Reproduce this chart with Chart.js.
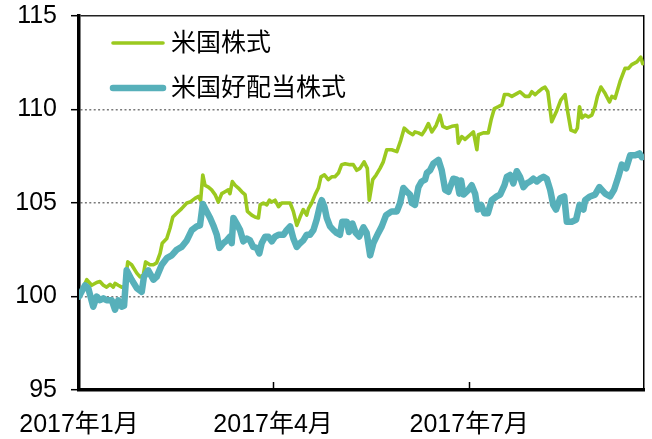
<!DOCTYPE html>
<html>
<head>
<meta charset="utf-8">
<script src="https://cdn.jsdelivr.net/npm/chart.js@4/dist/chart.umd.min.js"></script>
<style>
  html, body { margin: 0; padding: 0; background: #fff; }
  #wrap { width: 652px; height: 439px; }
</style>
</head>
<body>
<div id="wrap"><canvas id="stockChart" width="652" height="439"></canvas></div>
<script>
// days counted from 2017-01-01
const seriesNames = ['米国株式', '米国好配当株式'];
const tickDays = [0, 90, 181];
const tickLabels = ['2017年1月', '2017年4月', '2017年7月'];
const yTicks = [95, 100, 105, 110, 115];

const usDays = [0, 3.6, 5.9, 8.2, 9.7, 11.3, 12.8, 14.4, 15.9, 16.7, 18.2, 19.8, 21.3, 22.6, 24.4, 26.8, 28.3, 29.8, 30.9, 32.9,
  34.5, 36.0, 37.6, 38.6, 40.7, 42.2, 43.5, 45.3, 47.6, 50.0, 51.5, 53.8, 55.3, 56.4, 57.4, 58.4, 60.0, 61.5, 63.1, 64.6,
  66.2, 67.7, 69.2, 70.0, 71.1, 72.4, 73.9, 75.5, 77.0, 78.1, 80.1, 81.6, 83.2, 84.0, 85.5, 87.1, 88.3, 89.4, 90.9, 92.5,
  94.0, 95.6, 97.9, 99.4, 101.0, 102.5, 104.0, 105.6, 106.4, 107.9, 109.5, 111.0, 112.2, 113.8, 115.6, 117.2, 118.7, 120.3, 121.8, 123.4,
  125.7, 127.2, 128.8, 130.3, 132.2, 133.7, 134.6, 136.2, 137.8, 139.6, 141.1, 142.7, 145.0, 147.4, 149.2, 150.8, 152.7, 154.8, 155.8, 157.4,
  159.0, 160.5, 162.0, 163.6, 165.6, 167.4, 168.7, 170.5, 172.9, 175.2, 175.9, 177.5, 179.0, 181.4, 182.9, 184.5, 185.2, 187.5, 189.8, 191.1,
  192.6, 194.5, 196.1, 197.3, 199.1, 200.7, 203.0, 204.5, 206.9, 208.7, 210.0, 211.5, 213.0, 214.6, 216.1, 217.4, 219.2, 221.6, 223.4, 225.4,
  226.5, 228.1, 230.1, 231.1, 232.1, 233.2, 234.7, 236.2, 237.8, 239.3, 240.4, 242.0, 244.0, 246.0, 247.1, 248.6, 250.9, 253.2, 254.8, 256.3,
  258.7, 260.5, 261.4];
const usValues = [100.0, 100.9, 100.6, 100.75, 100.8, 100.6, 100.5, 100.65, 100.5, 100.7, 100.6, 100.5, 100.55, 101.85, 101.7, 101.25, 101.05, 101.15, 101.85, 101.7,
  101.7, 101.8, 102.3, 102.85, 103.1, 103.65, 104.25, 104.45, 104.7, 105.0, 105.05, 105.25, 105.35, 105.15, 106.5, 105.95, 105.85, 105.7, 105.45, 105.05,
  105.5, 105.6, 105.7, 105.5, 106.15, 105.95, 105.8, 105.6, 105.45, 104.55, 104.35, 104.25, 104.2, 104.9, 105.0, 104.9, 105.15, 105.05, 105.15, 104.8,
  105.0, 105.0, 105.0, 104.55, 103.8, 104.25, 104.65, 104.35, 104.7, 105.0, 105.45, 105.8, 106.4, 106.5, 106.25, 106.4, 106.4, 106.6, 107.05, 107.1,
  107.05, 107.05, 106.75, 106.85, 107.2, 106.85, 105.15, 106.25, 106.5, 106.85, 107.2, 107.85, 107.85, 107.75, 108.35, 109.0, 108.8, 108.65, 108.8, 108.75,
  108.65, 108.9, 109.25, 108.8, 109.15, 109.7, 109.1, 109.0, 109.1, 109.15, 108.2, 108.55, 108.4, 108.65, 108.8, 107.85, 108.65, 108.75, 108.75, 109.45,
  110.05, 110.15, 110.25, 110.8, 110.8, 110.7, 110.85, 110.95, 110.7, 110.7, 110.95, 110.8, 110.95, 111.1, 111.2, 110.95, 109.35, 109.95, 110.5, 110.8,
  109.95, 108.9, 108.8, 109.0, 110.15, 109.55, 109.7, 109.6, 109.7, 110.15, 110.7, 111.2, 110.85, 110.4, 110.7, 110.6, 111.5, 112.2, 112.2, 112.4,
  112.55, 112.8, 112.45];

const divDays = [0, 2.8, 4.3, 6.6, 8.2, 9.7, 11.3, 12.8, 15.2, 16.7, 18.2, 19.8, 20.9, 22.1, 24.4, 26.8, 29.1, 30.1, 32.1, 34.5,
  36.0, 38.4, 40.7, 43.0, 45.3, 47.6, 50.0, 52.3, 54.6, 56.1, 57.4, 59.2, 60.8, 62.3, 63.9, 65.1, 66.9, 68.5, 70.0, 70.8,
  71.6, 73.1, 74.7, 76.2, 77.8, 79.3, 80.8, 82.4, 83.6, 84.7, 86.3, 87.8, 89.4, 90.9, 92.5, 94.8, 96.3, 97.9, 99.4, 101.0,
  102.5, 104.0, 105.6, 107.1, 108.7, 110.2, 111.8, 112.6, 113.8, 114.9, 116.4, 118.0, 119.5, 121.0, 122.1, 124.2, 125.2, 126.8, 128.3, 129.9,
  131.9, 133.4, 135.0, 136.5, 138.8, 140.4, 142.4, 145.0, 147.4, 148.9, 150.4, 152.0, 153.5, 154.3, 155.8, 157.4, 158.9, 160.5, 161.3, 162.8,
  164.3, 166.7, 168.2, 169.8, 171.3, 173.6, 175.2, 176.4, 177.2, 178.3, 180.6, 182.1, 183.7, 184.9, 186.5, 188.0, 189.6, 191.4, 193.7, 195.3,
  197.3, 198.4, 199.9, 201.4, 203.0, 204.5, 206.1, 207.6, 209.2, 210.7, 212.3, 213.8, 215.4, 216.9, 218.5, 219.9, 221.2, 223.1, 225.0, 226.2,
  228.5, 230.5, 232.1, 233.9, 234.7, 237.0, 239.3, 241.3, 244.0, 246.3, 248.1, 250.1, 251.7, 253.7, 255.6, 257.9, 259.9, 261.0];
const divValues = [100.0, 100.6, 100.45, 99.45, 100.0, 99.8, 99.9, 99.8, 99.8, 99.3, 99.8, 99.45, 99.5, 101.4, 100.9, 100.45, 100.25, 101.05, 101.4, 100.9,
  101.05, 101.7, 102.05, 102.2, 102.5, 102.65, 103.0, 103.55, 103.75, 103.8, 104.95, 104.55, 104.2, 103.8, 103.3, 102.6, 102.85, 103.0, 103.2, 102.85,
  104.2, 103.9, 103.55, 102.95, 103.1, 103.0, 102.65, 102.6, 102.3, 102.85, 103.2, 103.2, 102.95, 103.2, 103.3, 103.3, 103.55, 103.75, 103.1, 102.65,
  102.85, 103.0, 103.3, 103.3, 103.55, 104.1, 104.9, 105.15, 104.8, 104.2, 103.75, 103.55, 103.4, 103.3, 104.0, 104.0, 103.45, 103.9, 103.4, 103.2,
  103.7, 103.4, 102.2, 102.85, 103.4, 103.75, 104.35, 104.55, 104.55, 105.0, 105.8, 105.6, 105.45, 105.0, 104.9, 105.85, 106.15, 106.25, 106.6, 106.75,
  107.1, 107.3, 106.75, 105.7, 105.6, 106.3, 106.25, 105.5, 106.2, 105.45, 105.7, 105.95, 105.5, 104.65, 104.9, 104.45, 104.45, 105.15, 105.35, 105.45,
  105.95, 106.4, 106.5, 106.05, 106.7, 106.4, 105.85, 106.05, 106.15, 106.3, 106.15, 106.3, 106.4, 106.3, 105.7, 104.9, 104.65, 105.25, 105.35, 104.0,
  104.0, 104.1, 104.9, 104.65, 105.15, 105.35, 105.45, 105.85, 105.5, 105.35, 105.7, 106.4, 107.05, 106.85, 107.55, 107.55, 107.65, 107.45];

const FONT = '"Liberation Sans", Arial, "Noto Sans CJK JP", sans-serif';
const GREEN = '#9BC91F';
const TEAL = '#57B0BA';

const toPoints = (days, vals) => days.map((d, i) => ({ x: d, y: vals[i] }));

// legend drawn inside the plot, top-left, and small inner x tick marks
const extras = {
    id: 'extras',
    afterDraw(chart) {
        const ctx = chart.ctx;
        const x = chart.scales.x;
        const area = chart.chartArea;
        ctx.save();
        ctx.strokeStyle = '#000';
        ctx.lineWidth = 1.5;
        tickDays.slice(1).forEach(d => {
            const px = Math.round(x.getPixelForValue(d)) + 0.5;
            ctx.beginPath();
            ctx.moveTo(px, area.bottom);
            ctx.lineTo(px, area.bottom - 8);
            ctx.stroke();
        });
        const rows = [chart.data.datasets[0], chart.data.datasets[1]];
        rows.forEach((ds, i) => {
            const y = 43 + i * 45;
            ctx.strokeStyle = ds.borderColor;
            ctx.lineWidth = ds.borderWidth;
            ctx.lineCap = 'round';
            ctx.beginPath();
            ctx.moveTo(113, y);
            ctx.lineTo(163, y);
            ctx.stroke();
            ctx.fillStyle = '#000';
            ctx.font = '25px ' + FONT;
            ctx.textBaseline = 'middle';
            ctx.fillText(ds.label, 171, y + 1);
        });
        ctx.restore();
    }
};

const noOverhang = s => { s.paddingTop = 0; s.paddingBottom = 0; s.paddingLeft = 0; s.paddingRight = 0; };

new Chart(document.getElementById('stockChart'), {
    type: 'line',
    data: {
        datasets: [
            {
                label: seriesNames[0],
                data: toPoints(usDays, usValues),
                borderColor: GREEN,
                borderWidth: 3.6,
                order: 1
            },
            {
                label: seriesNames[1],
                data: toPoints(divDays, divValues),
                borderColor: TEAL,
                borderWidth: 6.5,
                order: 0
            }
        ]
    },
    options: {
        responsive: false,
        animation: false,
        parsing: false,
        elements: {
            point: { radius: 0 },
            line: { tension: 0, borderCapStyle: 'round', borderJoinStyle: 'round' }
        },
        layout: { padding: { left: 0, top: 16, right: 8, bottom: 0 } },
        plugins: { legend: { display: false }, tooltip: { enabled: false } },
        scales: {
            x: {
                type: 'linear',
                min: 0,
                max: 262,
                afterBuildTicks: s => { s.ticks = tickDays.map(v => ({ value: v })); },
                afterFit: s => { s.height = 49; noOverhang(s); },
                grid: { display: true, drawOnChartArea: false, drawTicks: false },
                border: { display: true, color: '#000', width: 3.5 },
                ticks: {
                    padding: 20,
                    maxRotation: 0,
                    color: '#000',
                    font: { family: FONT, size: 25 },
                    callback: v => tickLabels[tickDays.indexOf(v)]
                }
            },
            y: {
                min: 95,
                max: 115,
                afterBuildTicks: s => { s.ticks = yTicks.map(v => ({ value: v })); },
                afterFit: s => { s.width = 79; noOverhang(s); },
                grid: {
                    color: c => c.tick && c.tick.value === 115 ? '#222' : (c.tick && c.tick.value === 95 ? 'rgba(0,0,0,0)' : '#7a7a7a'),
                    lineWidth: 1.4,
                    tickColor: '#000',
                    tickWidth: 1.5,
                    tickLength: 8,
                    tickBorderDash: []
                },
                border: {
                    display: true,
                    color: '#000',
                    width: 3.5,
                    dash: c => c.tick && c.tick.value === 115 ? [] : [2, 2.4]
                },
                ticks: {
                    padding: 14,
                    color: '#000',
                    font: { family: FONT, size: 25 }
                }
            },
            y2: {
                position: 'right',
                min: 95,
                max: 115,
                afterFit: s => { s.width = 0; noOverhang(s); },
                grid: { display: false },
                ticks: { display: false },
                border: { display: true, color: '#000', width: 1.5 }
            }
        }
    },
    plugins: [extras]
});
</script>
</body>
</html>
